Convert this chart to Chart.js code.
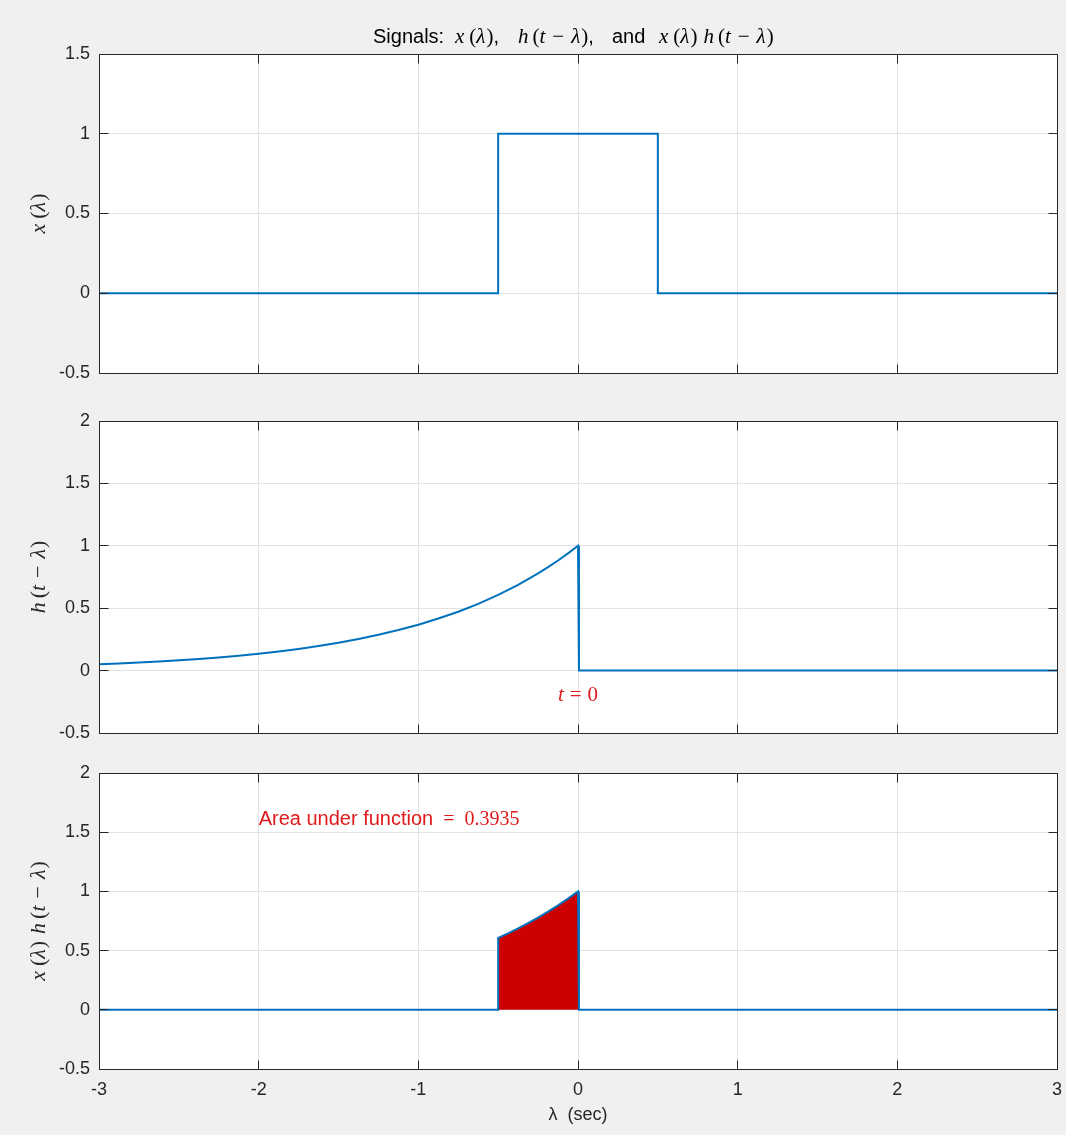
<!DOCTYPE html>
<html>
<head>
<meta charset="utf-8">
<script src="https://cdn.jsdelivr.net/npm/chart.js@4.4.0/dist/chart.umd.min.js"></script>
<style>
  html, body { margin: 0; padding: 0; background: #f0f0f0; }
  #wrap { position: relative; width: 1066px; height: 1135px; overflow: hidden; }
  #wrap canvas { position: absolute; left: 0; }
</style>
</head>
<body>
<div id="wrap">
  <canvas id="panelX" width="1066" height="400" style="top:0px"></canvas>
  <canvas id="panelH" width="1066" height="350" style="top:400px"></canvas>
  <canvas id="panelP" width="1066" height="385" style="top:750px"></canvas>
</div>
<script>
// ---- data ---------------------------------------------------------------
// lambda axis (seconds) and tick values
const lambdaTicks = [-3, -2, -1, 0, 1, 2, 3];
const xPanelTicks = [-0.5, 0, 0.5, 1, 1.5];
const hPanelTicks = [-0.5, 0, 0.5, 1, 1.5, 2];
const pPanelTicks = [-0.5, 0, 0.5, 1, 1.5, 2];

// x(lambda): unit pulse
const rectLambda = [-3, -0.5, -0.5, 0.5, 0.5, 3];
const rectValues = [0, 0, 1, 1, 0, 0];

// h(t - lambda) for t = 0
const hLambda = [-3, -2.875, -2.75, -2.625, -2.5, -2.375, -2.25, -2.125, -2,
                 -1.875, -1.75, -1.625, -1.5, -1.375, -1.25, -1.125, -1,
                 -0.875, -0.75, -0.625, -0.5, -0.375, -0.25, -0.1875, -0.125, -0.0625, 0, 0.006, 3];
const hValues  = [0.050, 0.056, 0.064, 0.072, 0.082, 0.093, 0.105, 0.119, 0.135,
                  0.153, 0.174, 0.197, 0.223, 0.253, 0.287, 0.325, 0.368,
                  0.417, 0.472, 0.535, 0.607, 0.687, 0.779, 0.829, 0.882, 0.939, 1.000, 0, 0];

// x(lambda) h(t - lambda)
const prodLambda = [-3, -0.5, -0.5, -0.4375, -0.375, -0.3125, -0.25, -0.1875, -0.125, -0.0625, 0, 0.006, 3];
const prodValues = [0, 0, 0.607, 0.646, 0.687, 0.732, 0.779, 0.829, 0.882, 0.939, 1.000, 0, 0];

const areaValue = 0.3935;
const tNow = 0;

// ---- styling ------------------------------------------------------------
const BLUE = '#0072bd';
const AREA_RED = '#cc0000';
const TEXT_RED = '#e01a1a';
const INK = '#262626';
const GRID = '#e2e2e2';
const SANS = '"Liberation Sans", Arial, sans-serif';
const SERIF = '"Liberation Serif", "Times New Roman", serif';
const f = (size, fam, italic) => (italic ? 'italic ' : '') + size + 'px ' + fam;

const pts = (xs, ys) => xs.map((x, i) => ({ x, y: ys[i] }));

// ---- mixed-font text helpers -------------------------------------------
function runsWidth(ctx, runs) {
  let w = 0;
  for (const r of runs) {
    if (typeof r === 'number') { w += r; continue; }
    ctx.font = r[1]; w += ctx.measureText(r[0]).width;
  }
  return w;
}
function drawRuns(ctx, runs, x, y, align, color) {
  ctx.save();
  ctx.fillStyle = color;
  ctx.textBaseline = 'alphabetic';
  ctx.textAlign = 'left';
  const w = runsWidth(ctx, runs);
  let cx = align === 'center' ? x - w / 2 : align === 'right' ? x - w : x;
  for (const r of runs) {
    if (typeof r === 'number') { cx += r; continue; }
    ctx.font = r[1];
    ctx.fillText(r[0], cx, y);
    cx += ctx.measureText(r[0]).width;
  }
  ctx.restore();
}
function drawRunsVertical(ctx, runs, x, yCenter, color) {
  ctx.save();
  ctx.translate(x, yCenter);
  ctx.rotate(-Math.PI / 2);
  drawRuns(ctx, runs, 0, 0, 'center', color);
  ctx.restore();
}
// math snippets: x(λ) and h(t − λ)
function mathX(i, r) { return [['x', i], 5, ['(', r], ['λ', i], 1, [')', r]]; }
function mathH(i, r) { return [['h', i], 4, ['(', r], ['t', i], 7, ['−', r], 7, ['λ', i], 1, [')', r]]; }

// ---- axes box with inward ticks and white plot background ---------------
const framePlugin = {
  id: 'frame',
  beforeDraw(chart) {
    const { ctx, chartArea: a } = chart;
    ctx.save();
    ctx.fillStyle = '#ffffff';
    ctx.fillRect(a.left, a.top, a.right - a.left, a.bottom - a.top);
    ctx.restore();
  },
  afterDatasetsDraw(chart) {
    const { ctx, chartArea: a, scales: { x, y } } = chart;
    const L = Math.floor(a.left) + 0.5, R = Math.floor(a.right) + 0.5;
    const T = Math.floor(a.top) + 0.5, B = Math.floor(a.bottom) + 0.5;
    const len = 9;
    ctx.save();
    ctx.strokeStyle = INK;
    ctx.lineWidth = 1;
    ctx.beginPath();
    ctx.rect(L, T, R - L, B - T);
    x.ticks.forEach(t => {
      const px = Math.floor(x.getPixelForValue(t.value)) + 0.5;
      ctx.moveTo(px, B); ctx.lineTo(px, B - len);
      ctx.moveTo(px, T); ctx.lineTo(px, T + len);
    });
    y.ticks.forEach(t => {
      const py = Math.floor(y.getPixelForValue(t.value)) + 0.5;
      ctx.moveTo(L, py); ctx.lineTo(L + len, py);
      ctx.moveTo(R, py); ctx.lineTo(R - len, py);
    });
    ctx.stroke();
    ctx.restore();
  }
};

function lineSet(data) {
  return { data, borderColor: BLUE, borderWidth: 2, pointRadius: 0, tension: 0, fill: false };
}

const plainNumber = v => String(v);

function makePanel(id, opts) {
  const canvasH = document.getElementById(id).height;
  const xHeight = canvasH - opts.plotBottom;
  return new Chart(document.getElementById(id), {
    type: 'line',
    data: { datasets: opts.datasets },
    options: {
      responsive: false,
      animation: false,
      layout: { padding: { top: opts.plotTop, right: 9, left: 0, bottom: 0 } },
      plugins: { legend: { display: false }, tooltip: { enabled: false } },
      scales: {
        x: {
          type: 'linear', min: -3, max: 3,
          afterBuildTicks: s => { s.ticks = lambdaTicks.map(v => ({ value: v })); },
          afterFit: s => { s.height = xHeight; s.paddingLeft = 0; s.paddingRight = 0; },
          grid: { color: GRID, lineWidth: 1, drawTicks: false },
          border: { display: false },
          ticks: {
            display: opts.showXLabels, padding: 10, color: INK, maxRotation: 0,
            callback: plainNumber, font: { family: SANS, size: 18 }
          }
        },
        y: {
          type: 'linear', min: opts.yMin, max: opts.yMax,
          afterBuildTicks: s => { s.ticks = opts.yTicks.map(v => ({ value: v })); },
          afterFit: s => { s.width = 99; s.paddingTop = 0; s.paddingBottom = 0; },
          grid: { color: GRID, lineWidth: 1, drawTicks: false },
          border: { display: false },
          ticks: { padding: 9, color: INK, callback: plainNumber, font: { family: SANS, size: 18 } }
        }
      }
    },
    plugins: [framePlugin, { id: 'text-' + id, afterDraw: opts.text }]
  });
}

const MI = f(22, SERIF, true), MR = f(22, SERIF, false);

// top panel: x(lambda)
makePanel('panelX', {
  plotTop: 54, plotBottom: 373, yMin: -0.5, yMax: 1.5, yTicks: xPanelTicks, showXLabels: false,
  datasets: [lineSet(pts(rectLambda, rectValues))],
  text(chart) {
    const ctx = chart.ctx, a = chart.chartArea;
    const c = (a.left + a.right) / 2;
    const S = f(20, SANS), ti = f(21, SERIF, true), tr = f(21, SERIF, false);
    const base = 43, col = '#000000';
    drawRuns(ctx, [['Signals:', S]], c - 205, base, 'left', col);
    drawRuns(ctx, [...mathX(ti, tr), [',', S]], c - 123, base, 'left', col);
    drawRuns(ctx, [...mathH(ti, tr), [',', S]], c - 60, base, 'left', col);
    drawRuns(ctx, [['and', S]], c + 34, base, 'left', col);
    drawRuns(ctx, [...mathX(ti, tr), 6, ...mathH(ti, tr)], c + 81, base, 'left', col);
    drawRunsVertical(ctx, mathX(MI, MR), 45, (a.top + a.bottom) / 2, INK);
  }
});

// middle panel: h(t - lambda)
makePanel('panelH', {
  plotTop: 21, plotBottom: 333, yMin: -0.5, yMax: 2, yTicks: hPanelTicks, showXLabels: false,
  datasets: [lineSet(pts(hLambda, hValues))],
  text(chart) {
    const ctx = chart.ctx, a = chart.chartArea, { x, y } = chart.scales;
    drawRunsVertical(ctx, mathH(MI, MR), 45, (a.top + a.bottom) / 2, INK);
    const r = f(21, SERIF, false), i = f(21, SERIF, true);
    drawRuns(ctx, [['t', i], 6, ['=', r], 6, [String(tNow), r]],
      x.getPixelForValue(tNow), y.getPixelForValue(-0.24), 'center', TEXT_RED);
  }
});

// bottom panel: x(lambda) h(t - lambda) with the shaded area
makePanel('panelP', {
  plotTop: 23, plotBottom: 319, yMin: -0.5, yMax: 2, yTicks: pPanelTicks, showXLabels: true,
  datasets: [
    lineSet(pts(prodLambda, prodValues)),
    {
      data: pts(prodLambda.slice(1, 12), prodValues.slice(1, 12)),
      borderWidth: 0, pointRadius: 0, tension: 0,
      backgroundColor: AREA_RED, fill: 'origin'
    }
  ],
  text(chart) {
    const ctx = chart.ctx, a = chart.chartArea, { x, y } = chart.scales;
    drawRunsVertical(ctx, [...mathX(MI, MR), 7, ...mathH(MI, MR)], 45, (a.top + a.bottom) / 2, INK);
    const S = f(20, SANS), r = f(20, SERIF, false);
    drawRuns(ctx, [['Area under function', S], 10, ['=', r], 10, [areaValue.toFixed(4), r]],
      x.getPixelForValue(-2), y.getPixelForValue(1.56), 'left', TEXT_RED);
    ctx.save();
    ctx.fillStyle = INK;
    ctx.font = f(18, SANS);
    ctx.textAlign = 'center';
    ctx.textBaseline = 'alphabetic';
    ctx.fillText('λ  (sec)', (a.left + a.right) / 2, 370);
    ctx.restore();
  }
});
</script>
</body>
</html>
